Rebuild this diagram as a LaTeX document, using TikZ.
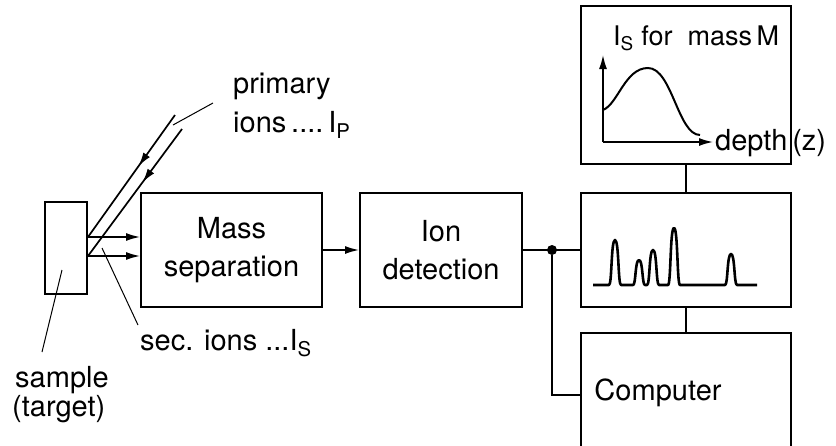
\documentclass[tikz,border=0pt]{standalone}
\usepackage{fontspec}
\setmainfont{TeX Gyre Heros}
\usetikzlibrary{arrows.meta,decorations.markings}
\tikzset{
  blk/.style={draw, line width=2pt, align=center, inner sep=0pt},
  wire/.style={line width=1.5pt},
  lead/.style={line width=1pt},
  tip/.style={-{Latex[length=14pt,width=8pt]}},
  beam/.style={line width=1.7pt, postaction={decorate},
    decoration={markings, mark=at position 0.42 with {\arrow{Latex[length=14pt,width=8pt]}}}},
  lbl/.style={inner sep=0pt, anchor=base west},
}

\begin{document}
\begin{tikzpicture}[x=1pt,y=-1pt, font=\fontsize{29}{38}\selectfont]
\useasboundingbox (0,0) rectangle (836,445);

% blocks
\node[blk, minimum width=42, minimum height=92] (sample) at (66,248) {};
\node[blk, minimum width=181, minimum height=114] (mass) at (231.5,250) {Mass\\separation};
\node[blk, minimum width=162, minimum height=114] (ion) at (441,250) {Ion\\detection};
\node[blk, minimum width=210, minimum height=114] (spec) at (686,250) {};
\node[blk, minimum width=210, minimum height=158] (prof) at (686,85) {};
\node[blk, minimum width=210, minimum height=124, anchor=north] (comp) at (686,332) {};
\node (comptxt) at (658,393) {Computer};

% ion beams
\coordinate (p1) at (175,115);
\coordinate (p2) at (182,129);
\draw[beam] (p1) -- (sample.east |- 0,237);
\draw[beam] (p2) -- (sample.east |- 0,256);
\draw[wire, tip] (sample.east |- 0,237) -- (mass.west |- 0,237);
\draw[wire, tip] (sample.east |- 0,256) -- (mass.west |- 0,256);

% labels and leaders
\node[lbl] (prim) at (233,93) {primary};
\node[lbl] (primI) at (233,132) {ions\,....\,I\textsubscript{P}};
\node[lbl] (sec) at (140,350) {sec. ions ...I\textsubscript{S}};
\node[lbl] (samp) at (15,387) {sample};
\node[lbl] (targ) at (12,416) {(target)};
\coordinate (l1) at (213,103);
\coordinate (l2) at (173,125);
\coordinate (l3) at (102,248);
\coordinate (l4) at (138,325);
\coordinate (l5) at (62,270);
\coordinate (l6) at (42,352);
\draw[lead] (l1) -- (l2);
\draw[lead] (l3) -- (l4);
\draw[lead] (l5) -- (l6);

% signal path
\draw[wire, tip] (mass.east) -- (ion.west);
\draw[wire] (ion.east) -- (spec.west);
\node[circle, fill, inner sep=0pt, minimum size=10pt] (dot) at (552,250) {};
\draw[wire] (dot) |- (comp.west);
\draw[wire] (prof.south) -- (spec.north);
\draw[wire] (spec.south) -- (comp.north);

% depth profile
\coordinate (o) at (603,142);
\draw[wire, tip] (o) -- (603,55);
\draw[wire, tip] (o) -- (713,142);
\node[anchor=west, inner sep=2pt] (depth) at (713,143) {depth\,(z)};
\node[lbl, font=\fontsize{27}{32}\selectfont] (ptitle) at (613,45) {I\textsubscript{S} for\ \ mass\,M};
\draw[line width=2pt] (603,110) .. controls (618,104) and (625,68) .. (648,68)
  .. controls (672,68) and (678,135) .. (700,135);

% mass spectrum
\draw[line width=2.6pt, line join=round] (593,285)
  foreach \px/\py in {615/240, 639/260, 653/250, 674/228, 731/254}
  { -- ({\px-6},285) .. controls ({\px-3},285) and ({\px-4},\py) .. (\px,\py)
    .. controls ({\px+4},\py) and ({\px+3},285) .. ({\px+6},285) }
  -- (757,285);
\end{tikzpicture}
\end{document}
